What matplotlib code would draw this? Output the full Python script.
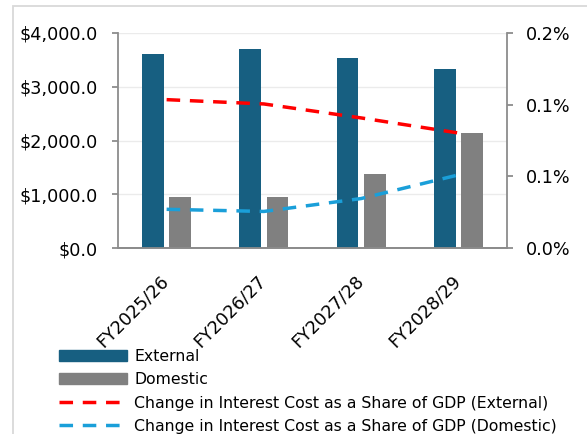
import matplotlib
matplotlib.use('Agg')
import matplotlib.pyplot as plt
import matplotlib.patches as mpatches
from matplotlib.ticker import FuncFormatter, FixedLocator
from matplotlib.transforms import ScaledTranslation
import numpy as np

plt.rcParams['font.family'] = ['DejaVu Sans']

# interest cost by fiscal year
years = ['FY2025/26', 'FY2026/27', 'FY2027/28', 'FY2028/29']
external = [3610, 3700, 3535, 3330]
domestic = [955, 945, 1375, 2145]
# change in interest cost as a share of GDP (%)
share_external = [0.138, 0.134, 0.121, 0.107]
share_domestic = [0.036, 0.034, 0.046, 0.068]

C_EXT = '#175f81'
C_DOM = '#808080'
C_RED = '#ff0000'
C_BLUE = '#1a9fd9'
C_AX = '#8c8c8c'
FS = 12.7

fig = plt.figure(figsize=(5.87, 4.34), dpi=100)
ax = fig.add_axes([118 / 587, 1 - 248 / 434, 389 / 587, 215 / 434])
ax2 = ax.twinx()
ax.set_zorder(ax2.get_zorder() - 1)  # keep bars under lines
ax.patch.set_visible(True)
ax2.patch.set_visible(False)

x = np.arange(len(years))
w = 0.226
off = 0.14
ax.bar(x - off, external, width=w, color=C_EXT, label='External', zorder=3)
ax.bar(x + off, domestic, width=w, color=C_DOM, label='Domestic', zorder=3)

dash = (3.9, 2.8)
l1, = ax2.plot(x, share_external, color=C_RED, lw=2.5, dashes=dash,
               label='Change in Interest Cost as a Share of GDP (External)')
l2, = ax2.plot(x, share_domestic, color=C_BLUE, lw=2.5, dashes=dash,
               label='Change in Interest Cost as a Share of GDP (Domestic)')

ax.set_xlim(-0.5, 3.5)
ax.set_ylim(0, 4000)
ax.set_yticks([0, 1000, 2000, 3000, 4000])
ax.yaxis.set_major_formatter(FuncFormatter(lambda v, p: '${:,.1f}'.format(v)))
ax.grid(axis='y', color='#ebebeb', lw=1, zorder=0)
ax.set_axisbelow(True)

ax2.set_ylim(0, 0.2)
ax2.yaxis.set_major_locator(FixedLocator([0, 0.2 / 3, 0.4 / 3, 0.2]))
ax2.yaxis.set_major_formatter(FuncFormatter(lambda v, p: '{:.1f}%'.format(v)))

for a in (ax, ax2):
    for s in a.spines.values():
        s.set_color(C_AX)
        s.set_linewidth(1.3)
    a.spines['top'].set_visible(False)
ax.spines['right'].set_visible(False)
ax2.spines['left'].set_visible(False)

ax.tick_params(axis='y', length=4.3, width=1.3, color=C_AX, pad=10.5, labelsize=FS)
ax2.tick_params(axis='y', length=4.3, width=1.3, color=C_AX, pad=9.5, labelsize=FS)
ax.tick_params(axis='x', length=0, pad=17)
ax.set_xticks(x)
ax.set_xticklabels(years, rotation=45, ha='right', rotation_mode='anchor', fontsize=FS)
shift = ScaledTranslation(-5 / 72, 0, fig.dpi_scale_trans)
for lbl in ax.get_xticklabels():
    lbl.set_transform(lbl.get_transform() + shift)

handles = [mpatches.Patch(color=C_EXT), mpatches.Patch(color=C_DOM), l1, l2]
labels = ['External', 'Domestic',
          'Change in Interest Cost as a Share of GDP (External)',
          'Change in Interest Cost as a Share of GDP (Domestic)']
fig.legend(handles, labels, loc='upper left', bbox_to_anchor=(59 / 587, 1 - 349 / 434),
           frameon=False, fontsize=11.3, handlelength=4.35, handletextpad=0.45,
           labelspacing=0.53, borderpad=0, borderaxespad=0)

# outer chart border
fig.add_artist(mpatches.Rectangle((13 / 587, -0.1), 1.2, 1 - 6 / 434 + 0.1,
                                  transform=fig.transFigure, fill=False,
                                  edgecolor='#d9d9d9', lw=1.3))

fig.savefig('out.png', dpi=100)
